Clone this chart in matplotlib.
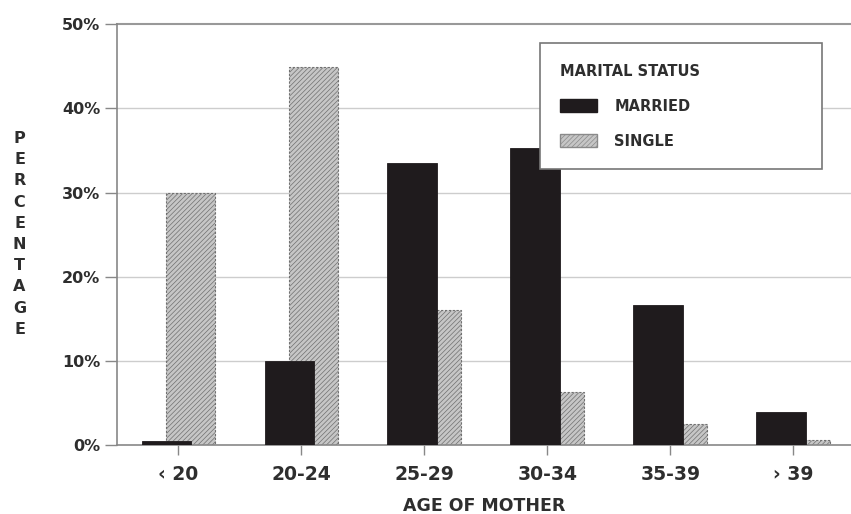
import numpy as np
import matplotlib.pyplot as plt
from matplotlib.patches import Patch

plt.rcParams.update({"font.family": ["DejaVu Sans"], "font.weight": "bold",
                     "axes.labelweight": "bold",
                     "hatch.linewidth": 0.5, "hatch.color": "#939393"})

AGES = ["\u2039 20", "20-24", "25-29", "30-34", "35-39", "\u203a 39"]
MARRIED = [0.5, 10.0, 33.5, 35.3, 16.7, 3.9]
SINGLE = [29.9, 44.9, 16.0, 6.3, 2.5, 0.6]
YTICKS = [0, 10, 20, 30, 40, 50]

TXT = "#2e2e2e"
GRID = "#cdcdcd"
DARK = "#1f1b1d"
LIGHT = "#c6c6c6"

fig = plt.figure(figsize=(8.51, 5.14), dpi=100)
ax = fig.add_axes([0.1375, 0.134, 0.8625, 0.819])

x = np.arange(len(AGES))
w = 0.40
ax.bar(x + 0.10, SINGLE, w, color=LIGHT, hatch="///////", edgecolor="#707070",
       linewidth=0.8, linestyle=(0, (2, 1.5)), zorder=2)
ax.bar(x - 0.10, MARRIED, w, color=DARK, edgecolor=DARK, linewidth=0.6, zorder=3)

ax.set_xlim(-0.5, 5.47)
ax.set_ylim(0, 50)
ax.set_yticks(YTICKS)
ax.set_yticklabels([f"{v}%" for v in YTICKS], fontsize=11.5, color=TXT)
ax.set_xticks(x)
ax.set_xticklabels(AGES, fontsize=13.5, color=TXT)
ax.tick_params(axis="y", length=9, width=1, color="#888888", pad=3)
ax.tick_params(axis="x", length=7.5, width=1, color="#888888", pad=7)

for v in YTICKS[1:-1]:
    ax.axhline(v, color=GRID, lw=1, zorder=0)
ax.axhline(50, color="#999999", lw=1.5, zorder=1, clip_on=False)

for s in ["right", "top"]:
    ax.spines[s].set_visible(False)
for s in ["left", "bottom"]:
    ax.spines[s].set_color("#888888")
    ax.spines[s].set_linewidth(1.2)

ax.set_xlabel("AGE OF MOTHER", fontsize=12.5, fontweight="bold", color=TXT, labelpad=9)
fig.text(0.023, 0.545, "\n".join("PERCENTAGE"), fontsize=11.5, color=TXT,
         ha="center", va="center", linespacing=1.52)

handles = [Patch(facecolor=DARK, edgecolor=DARK, label="MARRIED"),
           Patch(facecolor=LIGHT, hatch="///////", edgecolor="#8a8a8a", label="SINGLE")]
leg = ax.legend(handles=handles, title="MARITAL STATUS", loc="upper left",
                bbox_to_anchor=(0.576, 0.653, 0.384, 0.302), mode="expand",
                alignment="left", fancybox=False, borderaxespad=0,
                edgecolor="#777777", framealpha=1, prop={"size": 10.5, "weight": "bold"},
                title_fontproperties={"size": 10.5, "weight": "bold"},
                handlelength=2.5, handleheight=1.0, handletextpad=1.2,
                labelspacing=1.38, borderpad=1.4)
for t in leg.get_texts():
    t.set_color(TXT)
leg.get_title().set_color(TXT)
leg.get_frame().set_linewidth(1.2)
leg.set_zorder(5)

fig.savefig("out.png")
